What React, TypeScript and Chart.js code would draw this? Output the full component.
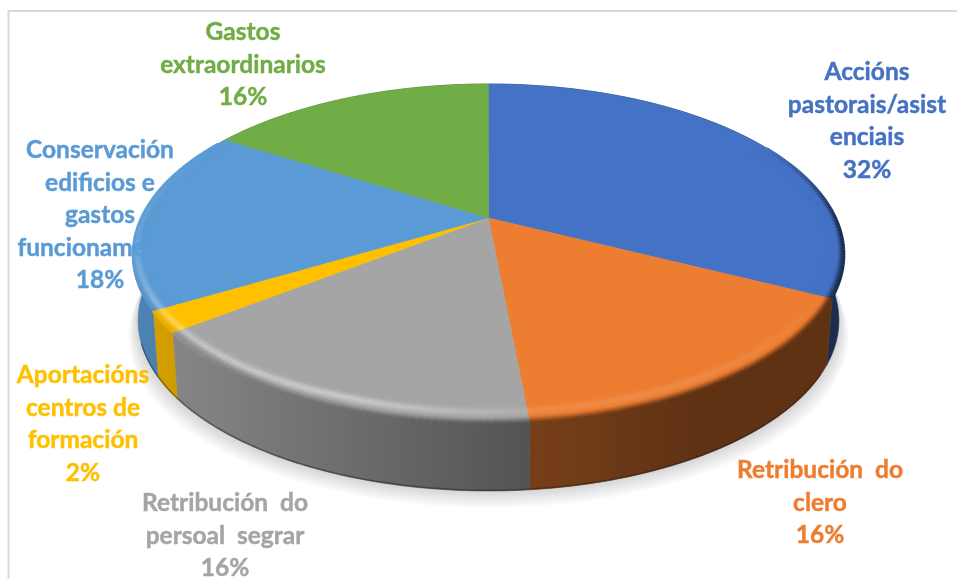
import React, { useEffect, useRef } from "react";
import { Chart, registerables } from "chart.js";

Chart.register(...registerables);

const categories = [
  "Accións pastorais/asistenciais",
  "Retribución do clero",
  "Retribución do persoal segrar",
  "Aportacións centros de formación",
  "Conservación edificios e gastos funcionamento",
  "Gastos extraordinarios",
];
const sliceValues = [32.4, 16.1, 16.0, 2.0, 17.5, 16.0];
const percentLabels = ["32%", "16%", "16%", "2%", "18%", "16%"];
const sliceColors = ["#4472c4", "#ed7d31", "#a5a5a5", "#ffc000", "#5b9bd5", "#70ad47"];
const labelLines = [
  ["Accións", "pastorais/asist", "enciais"],
  ["Retribución  do", "clero"],
  ["Retribución  do", "persoal  segrar"],
  ["Aportacións", "centros de", "formación"],
  ["Conservación", "edificios e", "gastos", "funcionamento"],
  ["Gastos", "extraordinarios"],
];
const labelAnchors = [
  [867, 72],
  [820, 470],
  [225, 503],
  [83, 375],
  [100, 150],
  [243, 32],
];

const X0 = 488.5, Y0 = 218, PK = 0.214, PA = 162.7, PB = 347.5;
const DEPTH = 66, LOWER_SCALE = 0.985;
const LINE_H = 32.6;

const top = (th: number, r = 1): [number, number] => {
  const u = r * Math.sin(th), v = -r * Math.cos(th), w = 1 - PK * v;
  return [X0 + (PB * u) / w, Y0 + (PA * v) / w];
};
const low = (th: number): [number, number] => {
  const [x, y] = top(th);
  return [X0 + (x - X0) * LOWER_SCALE, y + DEPTH];
};
const rgb = (hex: string) => [1, 3, 5].map((i) => parseInt(hex.slice(i, i + 2), 16));
const css = (c: number[]) => `rgb(${c.map((n) => Math.round(n)).join(",")})`;
const mix = (a: number[], b: number[], t: number) => a.map((n, i) => n + (b[i] - n) * t);
const SIDE = [[130, 0.85], [530, 0.5], [700, 0.4], [850, 0.4]];
const sideAt = (x: number) => {
  for (let i = 1; i < SIDE.length; i++) {
    if (x <= SIDE[i][0]) {
      const t = Math.max(0, (x - SIDE[i - 1][0]) / (SIDE[i][0] - SIDE[i - 1][0]));
      return SIDE[i - 1][1] + (SIDE[i][1] - SIDE[i - 1][1]) * t;
    }
  }
  return 0.4;
};
const ramp = (x: number, pts: number[][]) => {
  if (x <= pts[0][0]) return pts[0][1];
  for (let i = 1; i < pts.length; i++) {
    if (x <= pts[i][0]) {
      return pts[i - 1][1] + ((pts[i][1] - pts[i - 1][1]) * (x - pts[i - 1][0])) / (pts[i][0] - pts[i - 1][0]);
    }
  }
  return pts[pts.length - 1][1];
};
const smooth = (a: number, b: number, x: number) => {
  const t = Math.min(1, Math.max(0, (x - a) / (b - a)));
  return t * t * (3 - 2 * t);
};

const pie3d = {
  id: "pie3d",
  beforeDatasetDraw(chart: any) {
    const ctx: CanvasRenderingContext2D = chart.ctx;
    const arcs = chart.getDatasetMeta(0).data;
    const colors: string[] = chart.data.datasets[0].backgroundColor;
    const ranges = arcs.map((a: any) => [a.startAngle + Math.PI / 2, a.endAngle + Math.PI / 2]);
    const pts = (f: (t: number) => [number, number], s: number, e: number) => {
      const n = Math.max(2, Math.ceil(((e - s) * 180) / Math.PI));
      const out: [number, number][] = [];
      for (let i = 0; i <= n; i++) out.push(f(s + ((e - s) * i) / n));
      return out;
    };
    ctx.save();
    // frame
    ctx.strokeStyle = "#d9d9d9";
    ctx.lineWidth = 2;
    ctx.beginPath();
    ctx.moveTo(8.5, 579);
    ctx.lineTo(8.5, 11);
    ctx.lineTo(957, 11);
    ctx.stroke();
    // soft drop shadow, built from opaque copies of the base, darkest nearest the pie
    for (let d = 17; d >= 1; d--) {
      const level = 255 - Math.round((18 - d) * 2.4);
      ctx.fillStyle = `rgb(${level},${level},${level})`;
      const sx = 1 + d * 0.0016;
      ctx.beginPath();
      pts(low, 0, Math.PI * 2).forEach(([x, y], i) => {
        const px = X0 + (x - X0) * sx;
        const py = y + d;
        if (i) ctx.lineTo(px, py);
        else ctx.moveTo(px, py);
      });
      ctx.closePath();
      ctx.fill();
    }
    // side wall
    ranges.forEach(([s, e]: number[], i: number) => {
      const base = rgb(colors[i]);
      const g = ctx.createLinearGradient(130, 0, 850, 0);
      SIDE.forEach(([x, f]) => g.addColorStop((x - 130) / 720, css(base.map((n) => n * f))));
      ctx.fillStyle = g;
      ctx.strokeStyle = g;
      ctx.lineWidth = 0.6;
      ctx.beginPath();
      const a = pts(top, s, e);
      const b = pts(low, s, e).reverse();
      [...a, ...b].forEach(([x, y], k) => (k ? ctx.lineTo(x, y) : ctx.moveTo(x, y)));
      ctx.closePath();
      ctx.fill();
      ctx.stroke();
    });
    // dark lower edge of the wall
    ctx.strokeStyle = "rgba(30,30,30,0.45)";
    ctx.lineWidth = 1.5;
    ctx.beginPath();
    pts((t) => { const [x, y] = low(t); return [x, y - 0.7]; }, (Math.PI * 120) / 180, (Math.PI * 250) / 180)
      .forEach(([x, y], k) => (k ? ctx.lineTo(x, y) : ctx.moveTo(x, y)));
    ctx.stroke();
    // top faces
    ranges.forEach(([s, e]: number[], i: number) => {
      ctx.fillStyle = colors[i];
      ctx.strokeStyle = colors[i];
      ctx.lineWidth = 0.5;
      ctx.beginPath();
      ctx.moveTo(X0, Y0);
      pts(top, s, e).forEach(([x, y]) => ctx.lineTo(x, y));
      ctx.closePath();
      ctx.fill();
      ctx.stroke();
    });
    // bevel along the rim
    const STEPS = 18;
    ctx.lineCap = "butt";
    ranges.forEach(([s, e]: number[], i: number) => {
      const base = rgb(colors[i]);
      const n = Math.ceil(((e - s) * 180) / Math.PI);
      for (let j = 0; j < n; j++) {
        const a0 = s + ((e - s) * j) / n, a1 = s + ((e - s) * (j + 1)) / n;
        const mid = (a0 + a1) / 2;
        const deg = (mid * 180) / Math.PI;
        const band = 0.04 + 0.045 * Math.abs(Math.cos(mid));
        const dark = ramp(deg, [[62, 0], [92, 1], [215, 1], [255, 0.1], [300, 0]]);
        const light = ramp(deg, [[115, 0], [150, 0.1], [176, 0.12], [200, 0.4], [240, 0.3], [262, 0.12], [300, 0]]);
        const peak = ramp(deg, [[200, 0.42], [265, 0.85]]);
        if (dark === 0 && light === 0) continue;
        for (let k = 0; k <= STEPS; k++) {
          const t = k / STEPS;
          const r = 1 - band * (1 - t);
          const [x] = top(mid, r);
          const sideCol = base.map((c) => c * sideAt(x));
          let col = mix(base, [255, 255, 255], light * Math.exp(-Math.pow((t - peak) / 0.17, 2)));
          col = mix(col, sideCol, dark * smooth(0.62, 1, t));
          const [x0, y0] = top(a0, r);
          const [x1, y1] = top(a1, r);
          ctx.strokeStyle = css(col);
          ctx.lineWidth = 2.2;
          ctx.beginPath();
          ctx.moveTo(x0, y0);
          ctx.lineTo(x1, y1);
          ctx.stroke();
        }
      }
    });
    // labels
    ctx.font = "bold 24.5px Lato";
    ctx.textAlign = "center";
    ctx.textBaseline = "middle";
    ctx.lineWidth = 0.45;
    labelLines.forEach((lines, i) => {
      ctx.fillStyle = colors[i];
      ctx.strokeStyle = colors[i];
      const [cx, cy] = labelAnchors[i];
      [...lines, percentLabels[i]].forEach((line, j) => {
        ctx.fillText(line, cx, cy + j * LINE_H);
        ctx.strokeText(line, cx, cy + j * LINE_H);
      });
    });
    ctx.restore();
    return false;
  },
};

export default function App() {
  const ref = useRef<HTMLCanvasElement>(null);
  useEffect(() => {
    const chart = new Chart(ref.current!, {
      type: "pie",
      data: {
        labels: categories,
        datasets: [{ data: sliceValues, backgroundColor: sliceColors, borderWidth: 0 }],
      },
      options: {
        responsive: false,
        animation: false,
        plugins: { legend: { display: false }, tooltip: { enabled: false } },
      },
      plugins: [pie3d],
    } as any);
    return () => chart.destroy();
  }, []);
  return (
    <canvas
      ref={ref}
      width={957}
      height={579}
      style={{ position: "fixed", left: 0, top: 0, width: 957, height: 579, display: "block" }}
    />
  );
}
